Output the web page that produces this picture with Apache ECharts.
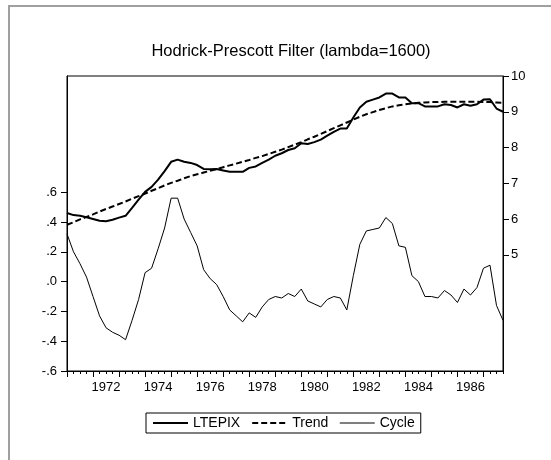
<!DOCTYPE html>
<html>
<head>
<meta charset="utf-8">
<script src="https://cdn.jsdelivr.net/npm/echarts@6/dist/echarts.min.js"></script>
<style>
  html, body { margin: 0; padding: 0; background: #fff; }
  #chart { width: 551px; height: 460px; }
</style>
</head>
<body>
<div id="chart"></div>
<script>
// quarterly sample 1971Q1 - 1987Q4
const startYear = 1971;
const nObs = 68;
const quarters = [];
for (let i = 0; i < nObs; i++) {
  quarters.push((startYear + Math.floor(i / 4)) + "Q" + ((i % 4) + 1));
}

// log series (right axis)
const ltepix = [6.17, 6.11, 6.09, 6.05, 6.00, 5.95, 5.94, 5.98, 6.04, 6.09,
  6.31, 6.54, 6.76, 6.90, 7.10, 7.34, 7.60, 7.66, 7.60, 7.57,
  7.51, 7.40, 7.39, 7.40, 7.36, 7.32, 7.32, 7.32, 7.43, 7.47,
  7.57, 7.66, 7.77, 7.84, 7.93, 7.98, 8.12, 8.10, 8.15, 8.22,
  8.33, 8.44, 8.53, 8.53, 8.84, 9.12, 9.28, 9.34, 9.40, 9.51,
  9.51, 9.40, 9.40, 9.24, 9.24, 9.15, 9.15, 9.15, 9.21, 9.19,
  9.12, 9.21, 9.17, 9.21, 9.34, 9.35, 9.09, 9.00];

// HP trend (right axis)
const trend = [5.84, 5.91, 5.99, 6.06, 6.13, 6.21, 6.28, 6.35, 6.42, 6.49,
  6.57, 6.64, 6.71, 6.79, 6.86, 6.94, 7.01, 7.07, 7.14, 7.20,
  7.25, 7.30, 7.35, 7.40, 7.45, 7.50, 7.55, 7.60, 7.65, 7.71,
  7.76, 7.82, 7.88, 7.94, 8.01, 8.08, 8.15, 8.23, 8.30, 8.38,
  8.46, 8.54, 8.62, 8.70, 8.78, 8.86, 8.93, 8.99, 9.05, 9.10,
  9.15, 9.18, 9.21, 9.23, 9.25, 9.26, 9.27, 9.27, 9.28, 9.28,
  9.28, 9.28, 9.28, 9.28, 9.27, 9.27, 9.26, 9.25];

// cycle (left axis)
const cycle = [0.32, 0.20, 0.12, 0.03, -0.10, -0.23, -0.31, -0.34, -0.36, -0.39,
  -0.26, -0.12, 0.06, 0.09, 0.22, 0.36, 0.56, 0.56, 0.42, 0.33,
  0.24, 0.08, 0.02, -0.02, -0.10, -0.19, -0.23, -0.27, -0.21, -0.24,
  -0.17, -0.12, -0.10, -0.11, -0.08, -0.10, -0.05, -0.13, -0.15, -0.17,
  -0.12, -0.10, -0.11, -0.19, 0.04, 0.25, 0.34, 0.35, 0.36, 0.43,
  0.39, 0.24, 0.23, 0.04, 0.00, -0.10, -0.10, -0.11, -0.06, -0.09,
  -0.14, -0.05, -0.09, -0.04, 0.09, 0.11, -0.16, -0.26];

const leftTicks = [-0.6, -0.4, -0.2, 0, 0.2, 0.4, 0.6];
const rightTicks = [5, 6, 7, 8, 9, 10];

const chart = echarts.init(document.getElementById("chart"));
const font = "Liberation Sans";

const option = {
  animation: false,
  backgroundColor: "#fff",
  textStyle: { fontFamily: font, color: "#000" },
  graphic: [{
    type: "rect",
    shape: { x: 9, y: 6, width: 600, height: 500 },
    style: { fill: "none", stroke: "#a0a0a0", lineWidth: 2 },
    silent: true
  }],
  title: {
    text: "Hodrick-Prescott Filter (lambda=1600)",
    left: 286,
    textAlign: "center",
    top: 38,
    textStyle: { fontFamily: font, fontSize: 16.5, fontWeight: "normal", color: "#000" }
  },
  legend: {
    left: 146,
    top: 413,
    orient: "horizontal",
    borderColor: "#000",
    borderWidth: 1,
    padding: [3, 6, 3, 6],
    itemGap: 11,
    itemWidth: 35,
    itemHeight: 14,
    itemStyle: { opacity: 0 },
    textStyle: { fontFamily: font, fontSize: 14, color: "#000" },
    data: [
      { name: "LTEPIX", lineStyle: { width: 2 } },
      { name: "Trend", lineStyle: { width: 2 } },
      { name: "Cycle", lineStyle: { width: 1 } }
    ]
  },
  grid: {
    left: 67, top: 76, width: 436, height: 295,
    show: true, borderColor: "#000", borderWidth: 1
  },
  xAxis: [
    {
      type: "category",
      data: quarters,
      boundaryGap: false,
      axisLine: { onZero: false, lineStyle: { color: "#000", width: 1 } },
      axisTick: { interval: 0, length: 3, lineStyle: { color: "#000" } },
      axisLabel: {
        interval: (i) => i % 8 === 6,
        formatter: (v) => v.slice(0, 4),
        margin: 10,
        fontSize: 13,
        fontFamily: font,
        color: "#000"
      },
      splitLine: { show: false }
    },
    {
      type: "category",
      data: quarters,
      boundaryGap: false,
      position: "bottom",
      axisLine: { show: false, onZero: false },
      axisTick: { interval: (i) => i % 4 === 0, length: 6, lineStyle: { color: "#000" } },
      axisLabel: { show: false },
      splitLine: { show: false }
    }
  ],
  yAxis: [
    {
      type: "value",
      position: "left",
      min: -0.6,
      max: 1.38,
      axisLine: { show: true, onZero: false, lineStyle: { color: "#000" } },
      axisTick: { show: true, length: 6, customValues: leftTicks, lineStyle: { color: "#000" } },
      axisLabel: {
        customValues: leftTicks,
        formatter: (v) => v.toFixed(1).replace("0.", "."),
        margin: 10,
        fontSize: 13,
        fontFamily: font,
        color: "#000"
      },
      splitLine: { show: false }
    },
    {
      type: "value",
      position: "right",
      min: 1.75,
      max: 10,
      axisLine: { show: true, onZero: false, lineStyle: { color: "#000" } },
      axisTick: { show: true, length: 6, customValues: rightTicks, lineStyle: { color: "#000" } },
      axisLabel: {
        customValues: rightTicks,
        formatter: (v) => String(Math.round(v)),
        margin: 8,
        fontSize: 13,
        fontFamily: font,
        color: "#000"
      },
      splitLine: { show: false }
    }
  ],
  series: [
    {
      name: "LTEPIX",
      type: "line",
      yAxisIndex: 1,
      data: ltepix,
      symbol: "none",
      lineStyle: { color: "#000", width: 2 },
      itemStyle: { color: "#000" }
    },
    {
      name: "Trend",
      type: "line",
      yAxisIndex: 1,
      data: trend,
      symbol: "none",
      lineStyle: { color: "#000", width: 2, type: [6, 3] },
      itemStyle: { color: "#000" }
    },
    {
      name: "Cycle",
      type: "line",
      yAxisIndex: 0,
      data: cycle,
      symbol: "none",
      lineStyle: { color: "#000", width: 1 },
      itemStyle: { color: "#000" }
    }
  ]
};

chart.setOption(option);
</script>
</body>
</html>
